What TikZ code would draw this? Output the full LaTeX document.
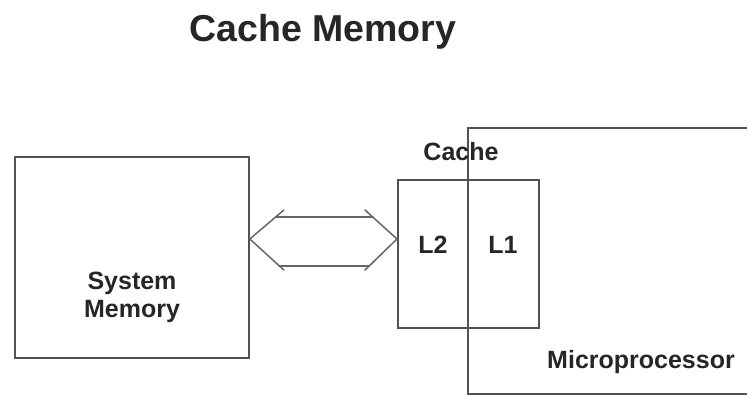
\documentclass[tikz,border=0pt]{standalone}
\usepackage{fontspec}
\setmainfont{Liberation Sans}
\begin{document}
\begin{tikzpicture}[x=1pt,y=-1pt,
  boxline/.style={draw=black!68,line width=1.7pt},
  arrline/.style={draw=black!60,line width=1.5pt,line cap=round,line join=miter},
  lbl/.style={font=\bfseries\fontsize{25}{28}\selectfont,text=black!85,inner sep=0pt,anchor=base}]
\useasboundingbox (0,0) rectangle (747,395);
\fill[white] (0,0) rectangle (747,395);
\node[lbl,font=\bfseries\fontsize{37.5}{40}\selectfont] (title) at (323,42) {Cache Memory};
% system memory
\node[boxline,minimum width=234pt,minimum height=201pt,inner sep=0pt] (sm) at (132,257.5) {};
\node[lbl,align=center,anchor=center] (smt) at (132,297) {System\\[0pt]Memory};
% microprocessor box (cut off at right and bottom)
\begin{scope}
\clip (0,0) rectangle (747,395);
\node[boxline,minimum width=300pt,minimum height=266pt,inner sep=0pt,anchor=north west] (mp) at (467,127) {};
\end{scope}
\node[lbl] (mpt) at (641,368) {Microprocessor};
% cache
\node[boxline,minimum width=141pt,minimum height=148pt,inner sep=0pt,anchor=north west] (cache) at (397,179) {};
\node[lbl] (ct) at (461,161) {Cache};
\node[lbl] (l2) at (433,254) {L2};
\node[lbl] (l1) at (503,254) {L1};
% double arrow
\coordinate (tl) at (sm.east |- 0,239);
\coordinate (tr) at (cache.west |- 0,239);
\draw[arrline] ([shift={(34,-29)}]tl) -- (tl) -- ([shift={(34,31)}]tl);
\draw[arrline] ([shift={(-32,-29)}]tr) -- (tr) -- ([shift={(-32,31)}]tr);
\draw[arrline] ([shift={(26,-22)}]tl) -- ([shift={(-24,-22)}]tr);
\draw[arrline] ([shift={(29,27)}]tl) -- ([shift={(-28,27)}]tr);
\end{tikzpicture}
\end{document}
